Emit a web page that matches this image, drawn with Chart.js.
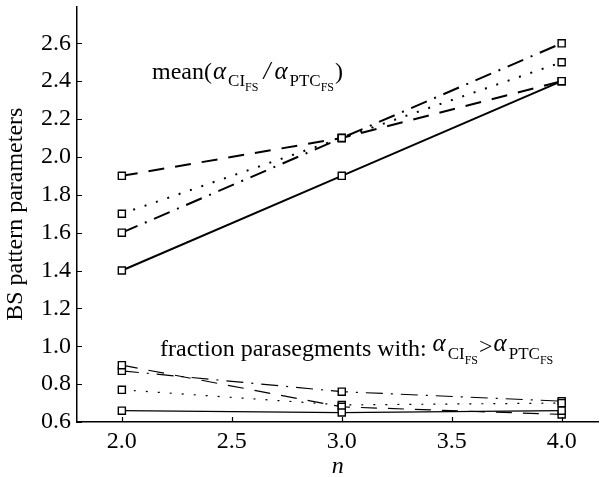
<!DOCTYPE html>
<html>
<head>
<meta charset="utf-8">
<script src="https://cdn.jsdelivr.net/npm/chart.js@4.4.1/dist/chart.umd.min.js"></script>
<style>
  html, body { margin: 0; padding: 0; background: #fff; }
  #wrap { width: 605px; height: 477px; }
</style>
</head>
<body>
<div id="wrap"><canvas id="bsChart" width="605" height="477"></canvas></div>
<script>
// x values (n) and series
const nValues = [2.0, 3.0, 4.0];
const xTicks = [2.0, 2.5, 3.0, 3.5, 4.0];
const yTicks = [0.6, 0.8, 1.0, 1.2, 1.4, 1.6, 1.8, 2.0, 2.2, 2.4, 2.6];

// mean(alpha_CI / alpha_PTC)
const meanSolid = [1.4, 1.9, 2.4];
const meanDashed = [1.9, 2.1, 2.4];
const meanDotted = [1.7, 2.1, 2.5];
const meanDashDot = [1.6, 2.1, 2.6];

// fraction parasegments with alpha_CI > alpha_PTC
const fracSolid = [0.66, 0.65, 0.66];
const fracDashed = [0.90, 0.68, 0.64];
const fracDotted = [0.77, 0.69, 0.70];
const fracDashDot = [0.87, 0.76, 0.71];

const SERIF = '"Liberation Serif", "Times New Roman", serif';
const dashStyles = {
    solid: [],
    dashed: [16, 11],
    dotted: [2, 10],
    dashdot: [17, 8, 2, 8]
};

function makeSet(label, values, style, width) {
    return {
        label: label,
        data: values.map((v, i) => ({ x: nValues[i], y: v })),
        borderColor: '#000',
        borderWidth: width,
        borderDash: dashStyles[style],
        pointStyle: 'rect',
        pointRadius: 5,
        pointBorderWidth: 1.4,
        pointBorderColor: '#000',
        pointBackgroundColor: '#fff',
        fill: false,
        tension: 0
    };
}

// draws a string made of pieces with their own font and vertical shift
function drawRich(ctx, x, y, parts) {
    let cx = x;
    parts.forEach(p => {
        ctx.font = p.f;
        ctx.fillText(p.t, cx, y + (p.dy || 0));
        cx += ctx.measureText(p.t).width + (p.sp || 0);
    });
}

const big = '24px ' + SERIF;
const ital = 'italic 25px ' + SERIF;
const sub = '17px ' + SERIF;
const sub2 = '12px ' + SERIF;

const annotations = {
    id: 'annotations',
    afterDraw(chart) {
        const ctx = chart.ctx;
        const area = chart.chartArea;
        const xs = chart.scales.x, ys = chart.scales.y;
        ctx.save();
        ctx.fillStyle = '#000';
        ctx.textBaseline = 'alphabetic';
        ctx.textAlign = 'left';

        // inward tick marks
        ctx.strokeStyle = '#000';
        ctx.lineWidth = 1.2;
        ctx.beginPath();
        xTicks.forEach(v => {
            const px = Math.round(xs.getPixelForValue(v)) + 0.5;
            ctx.moveTo(px, area.bottom);
            ctx.lineTo(px, area.bottom - 5);
        });
        yTicks.forEach(v => {
            const py = Math.round(ys.getPixelForValue(v)) + 0.5;
            ctx.moveTo(area.left, py);
            ctx.lineTo(area.left + 5, py);
        });
        ctx.stroke();

        drawRich(ctx, 152, 79, [
            { t: 'mean(', f: big, sp: 1 },
            { t: '\u03B1', f: ital, sp: 2 },
            { t: 'CI', f: sub, dy: 7 },
            { t: 'FS', f: sub2, dy: 12, sp: 5 },
            { t: '/', f: ital, sp: 4 },
            { t: '\u03B1', f: ital, sp: 2 },
            { t: 'PTC', f: sub, dy: 7 },
            { t: 'FS', f: sub2, dy: 12, sp: 1 },
            { t: ')', f: big }
        ]);

        drawRich(ctx, 160, 356, [
            { t: 'fraction parasegments with: ', f: big },
            { t: '\u03B1', f: ital, dy: -5, sp: 2 },
            { t: 'CI', f: sub, dy: 3 },
            { t: 'FS', f: sub2, dy: 8, sp: 1 },
            { t: '>', f: big, dy: -2, sp: 1 },
            { t: '\u03B1', f: ital, dy: -5, sp: 2 },
            { t: 'PTC', f: sub, dy: 3 },
            { t: 'FS', f: sub2, dy: 8 }
        ]);
        ctx.restore();
    }
};

const ctx = document.getElementById('bsChart').getContext('2d');
const bsChart = new Chart(ctx, {
    type: 'line',
    data: {
        datasets: [
            makeSet('mean solid', meanSolid, 'solid', 2),
            makeSet('mean dashed', meanDashed, 'dashed', 2),
            makeSet('mean dotted', meanDotted, 'dotted', 2),
            makeSet('mean dash-dot', meanDashDot, 'dashdot', 2),
            makeSet('fraction solid', fracSolid, 'solid', 1.2),
            makeSet('fraction dashed', fracDashed, 'dashed', 1.2),
            makeSet('fraction dotted', fracDotted, 'dotted', 1.2),
            makeSet('fraction dash-dot', fracDashDot, 'dashdot', 1.2)
        ]
    },
    options: {
        responsive: false,
        animation: false,
        layout: { padding: { left: 0, top: 4, right: 5, bottom: 0 } },
        plugins: {
            legend: { display: false },
            tooltip: { enabled: false }
        },
        scales: {
            x: {
                type: 'linear',
                min: 1.796,
                max: 4.168,
                afterFit: s => { s.height = 55; s.paddingLeft = 0; s.paddingRight = 0; },
                afterBuildTicks: s => { s.ticks = xTicks.map(v => ({ value: v })); },
                grid: { display: false, drawTicks: false },
                border: { display: true, color: '#000', width: 1.5 },
                ticks: {
                    color: '#000',
                    padding: 5,
                    font: { family: SERIF, size: 24 },
                    callback: v => Number(v).toFixed(1)
                },
                title: {
                    display: true,
                    text: 'n',
                    color: '#000',
                    padding: { top: 0, bottom: -4 },
                    font: { family: SERIF, size: 24, style: 'italic' }
                }
            },
            y: {
                type: 'linear',
                min: 0.6,
                max: 2.795,
                afterFit: s => { s.width = 77; s.paddingTop = 0; s.paddingBottom = 0; },
                afterBuildTicks: s => { s.ticks = yTicks.map(v => ({ value: v })); },
                grid: { display: false, drawTicks: false },
                border: { display: true, color: '#000', width: 1.5 },
                ticks: {
                    color: '#000',
                    padding: 6,
                    font: { family: SERIF, size: 24 },
                    callback: v => Number(v).toFixed(1)
                },
                title: {
                    display: true,
                    text: 'BS pattern parameters',
                    color: '#000',
                    padding: { top: 1, bottom: 1 },
                    font: { family: SERIF, size: 24 }
                }
            }
        }
    },
    plugins: [annotations]
});
</script>
</body>
</html>
